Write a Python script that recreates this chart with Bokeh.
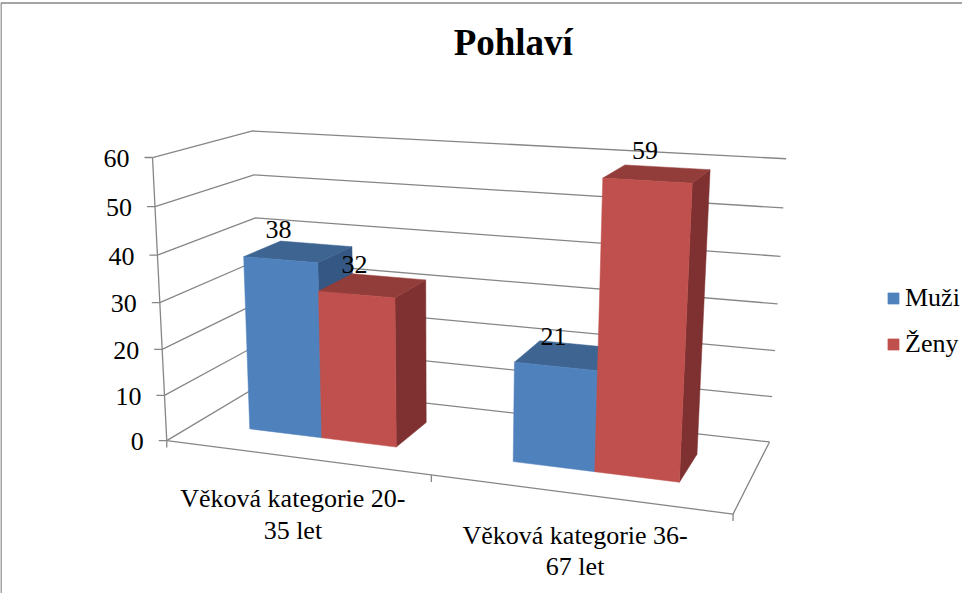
import numpy as np
from bokeh.plotting import figure
from bokeh.models import Range1d, ColumnDataSource, Legend, LegendItem
from bokeh.core.properties import value
from bokeh.embed import file_html
from bokeh.resources import INLINE

# ---------------- data ----------------
title = "Pohlaví"
categories = ["Věková kategorie 20-\n35 let", "Věková kategorie 36-\n67 let"]
series = ["Muži", "Ženy"]
muzi = [38, 21]
zeny = [32, 59]
y_ticks = [0, 10, 20, 30, 40, 50, 60]
y_max = 60

values = [muzi, zeny]
front_colors = ["#4F81BD", "#C0504D"]
top_colors = ["#3E6592", "#933D3B"]
side_colors = ["#355783", "#7E3130"]

FONT = value("Liberation Serif")
GRID = "#868686"

# ---------------- page / projection ----------------
W, H = 962, 593
OX, OY = 8, 8
n_cat = len(categories)

# 3-D frame corners (category units, value, depth) and where they sit on the page
calib_world = [(0, 0, 0), (0, 60, 0), (0, 0, 1), (0, 60, 1), (2, 60, 1), (2, 0, 1),
               (2, 0, 0), (1, 0, 0), (0, 40, 1), (2, 40, 1), (0, 40, 0)]
calib_page = [(174.3, 448.3), (160.0, 164.3), (268.0, 391.0), (260.0, 138.3),
              (793.3, 166.0), (777.3, 449.3), (740.0, 521.7), (439.3, 482.7),
              (263.3, 226.7), (788.3, 264.0), (165.0, 262.7)]

CU, CV, S = 480.0, 300.0, 300.0


def fit_camera(world, page):
    rows = []
    for (X, Yv, Z), (u, v) in zip(world, page):
        Y = Yv / y_max
        un, vn = (u - CU) / S, (v - CV) / S
        rows.append([X, Y, Z, 1, 0, 0, 0, 0, -un * X, -un * Y, -un * Z, -un])
        rows.append([0, 0, 0, 0, X, Y, Z, 1, -vn * X, -vn * Y, -vn * Z, -vn])
    _, _, vt = np.linalg.svd(np.array(rows, dtype=float))
    return vt[-1].reshape(3, 4)


P = fit_camera(calib_world, calib_page)


def proj(X, Yv, Z):
    h = P @ np.array([X, Yv / y_max, Z, 1.0])
    return h[0] / h[2] * S + CU, h[1] / h[2] * S + CV


p = figure(width=W, height=H, x_range=Range1d(OX, OX + W), y_range=Range1d(OY + H, OY),
           output_backend="svg", toolbar_location=None, min_border=0,
           x_axis_location=None, y_axis_location=None, outline_line_color=None)
p.grid.visible = False
p.background_fill_color = "white"

# chart-area border
p.line([OX + 0.5, OX + 0.5, OX + W], [OY + H, OY + 2.5, OY + 2.5], line_color=GRID, line_width=1.5)

# title
p.text([OX + W * 0.533], [50], text=[title], text_font=FONT, text_font_size="37px",
       text_font_style="bold", text_align="center", text_baseline="middle", text_color="black")

# walls: gridlines on side wall and back wall
gx, gy = [], []
for t in y_ticks:
    a, b, c = proj(0, t, 0), proj(0, t, 1), proj(n_cat, t, 1)
    gx.append([a[0], b[0], c[0]])
    gy.append([a[1], b[1], c[1]])
# floor front & right edges
f0, f1, f2 = proj(0, 0, 0), proj(n_cat, 0, 0), proj(n_cat, 0, 1)
gx.append([f0[0], f1[0], f2[0]])
gy.append([f0[1], f1[1], f2[1]])
# value axis
a0, a1 = proj(0, 0, 0), proj(0, y_max, 0)
gx.append([a0[0], a1[0]])
gy.append([a0[1], a1[1]])
# value ticks
for t in y_ticks:
    q = proj(0, t, 0)
    gx.append([q[0], q[0] - 8])
    gy.append([q[1], q[1]])
# category ticks
for i in range(n_cat + 1):
    q = proj(i, 0, 0)
    gx.append([q[0], q[0]])
    gy.append([q[1], q[1] + 7])
p.multi_line(gx, gy, line_color=GRID, line_width=1.3)

# value tick labels
tl = [proj(0, t, 0) for t in y_ticks]
p.text([q[0] - 23 for q in tl], [q[1] + 1 for q in tl], text=[str(t) for t in y_ticks],
       text_font=FONT, text_font_size="26px", text_align="right", text_baseline="middle",
       text_color="black")

# bars
gap_width = 1.5
bar_w = 1.0 / (len(series) + gap_width)
z0, z1 = 0.3, 0.7
xs, ys, cols = [], [], []
legend_idx = {}
lab_x, lab_y, lab_t = [], [], []


def face(pts):
    pp = [proj(*q) for q in pts]
    return [q[0] for q in pp], [q[1] for q in pp]


for i in range(n_cat):
    for s in range(len(series)):
        v = values[s][i]
        x0 = i + gap_width / 2 * bar_w + s * bar_w
        x1 = x0 + bar_w
        for pts, col in (
            ([(x1, 0, z0), (x1, 0, z1), (x1, v, z1), (x1, v, z0)], side_colors[s]),
            ([(x0, v, z0), (x1, v, z0), (x1, v, z1), (x0, v, z1)], top_colors[s]),
            ([(x0, 0, z0), (x1, 0, z0), (x1, v, z0), (x0, v, z0)], front_colors[s]),
        ):
            fx, fy = face(pts)
            xs.append(fx)
            ys.append(fy)
            cols.append(col)
        legend_idx.setdefault(s, len(xs) - 1)
        lx, ly = proj((x0 + x1) / 2, v, z0)
        lab_x.append(lx - 2)
        lab_y.append(ly - 30)
        lab_t.append(str(v))

src = ColumnDataSource(dict(xs=xs, ys=ys, color=cols))
bars = p.patches("xs", "ys", source=src, fill_color="color", line_color="color", line_width=0.5)

p.text(lab_x, lab_y, text=lab_t, text_font=FONT, text_font_size="26px",
       text_align="center", text_baseline="middle", text_color="black")

# category labels
cx, cy = [], []
for i in range(n_cat):
    q = proj(i + 0.5, 0, 0)
    cx.append(q[0] - 2)
    cy.append(q[1] + 27)
p.text(cx, cy, text=categories, text_font=FONT, text_font_size="26px", text_align="center",
       text_baseline="top", text_line_height=1.08, text_color="black")

legend = Legend(items=[LegendItem(label=series[s], renderers=[bars], index=legend_idx[s])
                       for s in range(len(series))],
                location=(886, 234), orientation="vertical",
                glyph_width=14, glyph_height=14, label_standoff=5, spacing=16, padding=0,
                margin=0, border_line_color=None, background_fill_alpha=0,
                label_text_font="Liberation Serif", label_text_font_size="26px",
                label_text_color="black")
p.add_layout(legend, "center")

open("out.html", "w").write(file_html(p, INLINE))
